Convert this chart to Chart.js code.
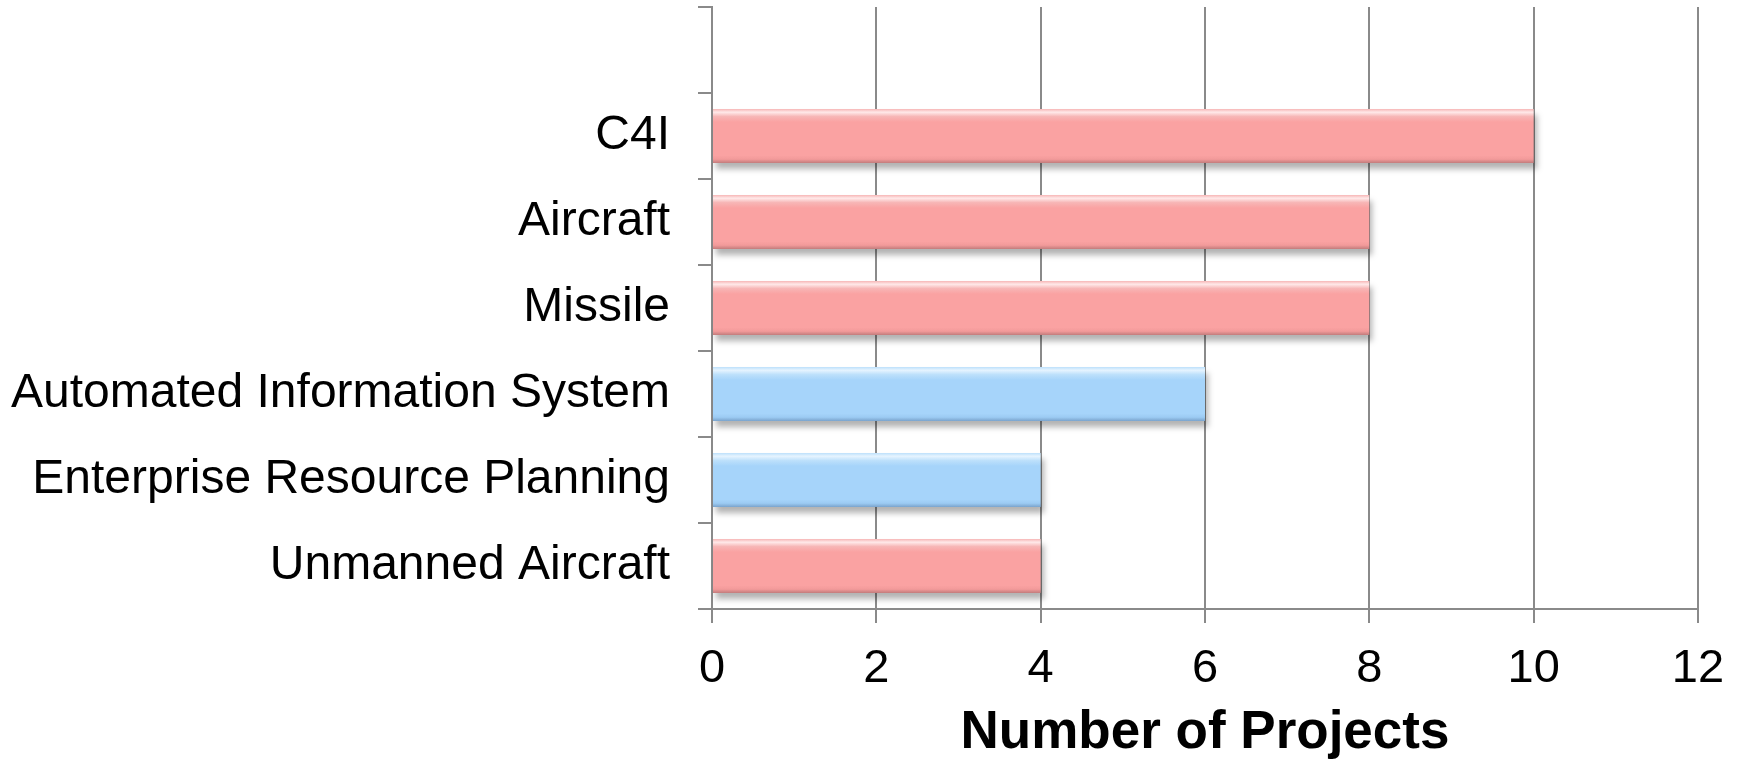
<!DOCTYPE html>
<html>
<head>
<meta charset="utf-8">
<script src="https://cdn.jsdelivr.net/npm/chart.js@4/dist/chart.umd.min.js"></script>
<style>
  html, body { margin: 0; padding: 0; background: #ffffff; }
  #wrap { width: 1740px; height: 761px; position: relative; }
</style>
</head>
<body>
<div id="wrap"><canvas id="c"></canvas></div>
<script>
// ---- data ----
const categories = ['', 'C4I', 'Aircraft', 'Missile', 'Automated Information System', 'Enterprise Resource Planning', 'Unmanned Aircraft'];
const projectCounts = [null, 10, 8, 8, 6, 4, 4];
const businessSystems = ['Automated Information System', 'Enterprise Resource Planning'];
const xTicks = [0, 2, 4, 6, 8, 10, 12];
const xTitle = 'Number of Projects';

// ---- styling ----
const PINK = { hi: '#ffe9e9', top: '#f7b6b6', body: '#faa2a2', low: '#f29a9a', dark: '#c27c7c' };
const BLUE = { hi: '#e6f4ff', top: '#bde0fb', body: '#a6d4fa', low: '#9ccbf3', dark: '#7aa3cc' };
const GRID = '#8a8a8a';
const FONT = "'Liberation Sans', Arial, sans-serif";

function paletteFor(i) {
  return businessSystems.includes(categories[i]) ? BLUE : PINK;
}

function barGradient(context) {
  const chart = context.chart;
  const p = paletteFor(context.dataIndex);
  const ys = chart.scales.y;
  if (!ys || !chart.chartArea) return p.body;
  const c = ys.getPixelForValue(context.dataIndex);
  const h = 27;
  const g = chart.ctx.createLinearGradient(0, c - h, 0, c + h);
  g.addColorStop(0, p.top);
  g.addColorStop(0.06, p.hi);
  g.addColorStop(0.14, p.top);
  g.addColorStop(0.24, p.body);
  g.addColorStop(0.86, p.body);
  g.addColorStop(0.93, p.low);
  g.addColorStop(1, p.dark);
  return g;
}

const shadowPlugin = {
  id: 'barShadow',
  beforeDatasetsDraw(chart) {
    const ctx = chart.ctx;
    ctx.save();
    ctx.shadowColor = 'rgba(0,0,0,0.3)';
    ctx.shadowBlur = 6;
    ctx.shadowOffsetX = 3;
    ctx.shadowOffsetY = 6;
  },
  afterDatasetsDraw(chart) {
    chart.ctx.restore();
  }
};

new Chart(document.getElementById('c'), {
  type: 'bar',
  data: {
    labels: categories,
    datasets: [{
      data: projectCounts,
      backgroundColor: barGradient,
      borderWidth: 0,
      barPercentage: 0.63,
      categoryPercentage: 1.0
    }]
  },
  plugins: [shadowPlugin],
  options: {
    indexAxis: 'y',
    responsive: true,
    maintainAspectRatio: false,
    animation: false,
    layout: { padding: { top: 7, right: 42, bottom: 0, left: 0 } },
    plugins: {
      legend: { display: false },
      tooltip: { enabled: false },
      title: { display: false }
    },
    scales: {
      x: {
        min: 0,
        max: 12,
        afterBuildTicks(scale) { scale.ticks = xTicks.map(v => ({ value: v })); },
        ticks: {
          color: '#000',
          font: { family: FONT, size: 47 },
          padding: 18,
          maxRotation: 0
        },
        grid: { color: GRID, lineWidth: 2, tickLength: 14, drawTicks: true },
        border: { color: GRID, width: 2 },
        title: {
          display: true,
          text: xTitle,
          color: '#000',
          font: { family: FONT, size: 53, weight: 'bold', lineHeight: 1.05 },
          padding: { top: 0, bottom: 0 }
        },
        afterFit(scale) {
          scale.height = 152;
          scale.paddingLeft = 0;
          scale.paddingRight = 0;
        }
      },
      y: {
        offset: true,
        ticks: {
          color: '#000',
          font: { family: FONT, size: 48 },
          padding: 28,
          autoSkip: false
        },
        grid: { offset: true, drawOnChartArea: false, color: GRID, lineWidth: 2, tickLength: 14 },
        border: { color: GRID, width: 2 },
        afterFit(scale) {
          scale.width = 712;
          scale.paddingTop = 0;
          scale.paddingBottom = 0;
        }
      }
    }
  }
});
</script>
</body>
</html>
